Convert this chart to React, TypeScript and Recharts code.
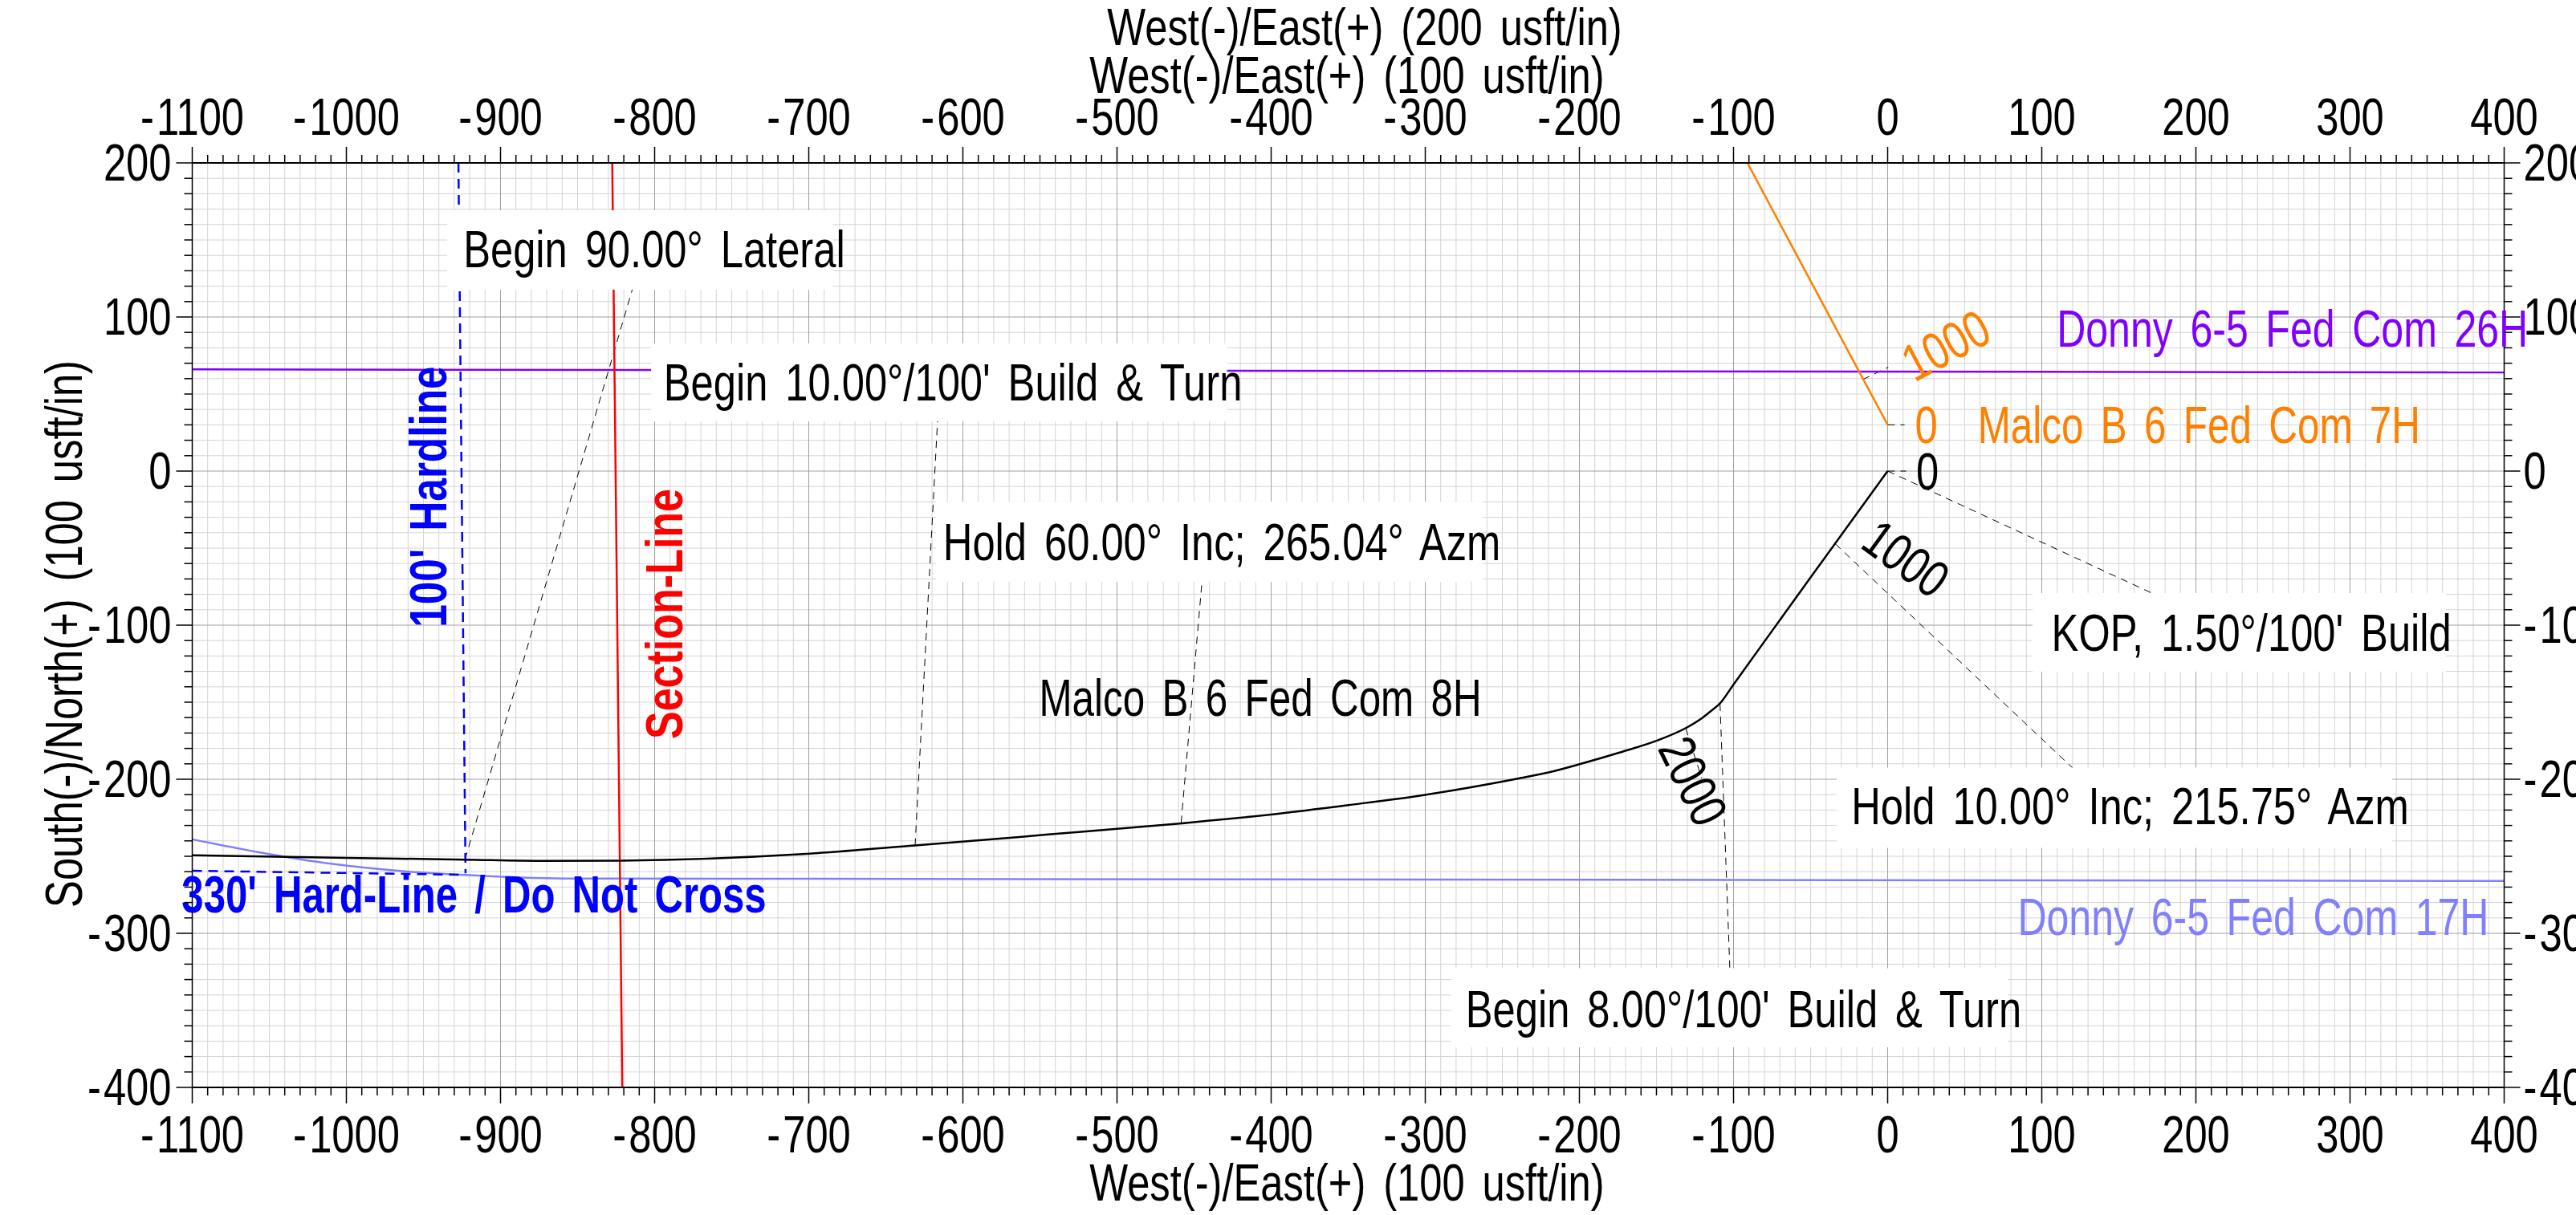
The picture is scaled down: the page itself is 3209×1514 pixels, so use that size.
import React from 'react';
import { LineChart, Line, XAxis, YAxis, CartesianGrid, ReferenceArea, ReferenceDot } from 'recharts';

// Axis ticks, labelled every 100 usft
const xMajor = [-1100, -1000, -900, -800, -700, -600, -500, -400, -300, -200, -100, 0, 100, 200, 300, 400];
const yMajor = [-400, -300, -200, -100, 0, 100, 200];
const xMinor = xMajor.slice(1).flatMap((v) => [90, 80, 70, 60, 50, 40, 30, 20, 10].map((d) => v - d));
const yMinor = yMajor.slice(1).flatMap((v) => [90, 80, 70, 60, 50, 40, 30, 20, 10].map((d) => v - d));
const xTicks = [...xMajor, ...xMinor].sort((a, b) => a - b);
const yTicks = [...yMajor, ...yMinor].sort((a, b) => a - b);

// Malco B 6 Fed Com 8H
const wellEast = [0, -50, -100, -109, -114, -120, -131, -148, -174, -199, -220, -242, -300, -350, -400, -458, -546, -631, -704, -822, -873, -923, -1000, -1100];
const wellNorth = [0, -69, -138.5, -151, -155.2, -160, -166.8, -174.3, -182.7, -190, -195.6, -200, -210.1, -216.8, -222.9, -228.6, -236, -243, -248.6, -252.8, -253, -252.2, -251, -249.4];

// Malco B 6 Fed Com 7H
const orangeEast = [0, -91];
const orangeNorth = [30, 200];

// Donny 6-5 Fed Com 26H
const purpleEast = [-1100, 400];
const purpleNorth = [66, 64];

// Donny 6-5 Fed Com 17H
const blueEast = [-1100, -1059, -1009, -959, -926, -859, -704, 400];
const blueNorth = [-239, -247, -255, -260, -262, -264.4, -264.6, -266];

// Lease lines
const sectionEast = [-827.5, -821];
const sectionNorth = [200, -400];
const hardlineEast = [-927.3, -922.7];
const hardlineNorth = [200, -261];
const hardBottomEast = [-1100, -923];
const hardBottomNorth = [-259.4, -262];

// Annotation leaders: [east from, north from, east to, north to]
const leaders = [
  [-923, -252, -808, 140],
  [-631, -243, -615, 60],
  [-458.4, -228.3, -443, -50],
  [-108.75, -151, -102.4, -322.7],
  [-131, -167, -120.6, -199.5],
  [0, 0, 171, -79],
  [-34, -47.2, 120, -192.7],
  [0, 0, 12, 0],
  [0, 30, 11, 30],
  [-16.2, 59.4, 0.4, 67.4],
];

// No narrow face is installed, so the regular one is squeezed
const FONT = '"Liberation Sans", sans-serif';
const SIZE = 65;
const NARROW = 0.78;

const toPoints = (xs: number[], ys: number[]) => xs.map((x, i) => ({ x, y: ys[i] }));

const tickText = (x: number, y: number, anchor: string, value: number) => (
  <text
    transform={`translate(${x} ${y}) scale(${NARROW} 1)`}
    textAnchor={anchor}
    fontSize={SIZE}
    fontFamily={FONT}
    fill="#000"
  >
    {value < 0 ? (
      <>
        -<tspan dx={4}>{-value}</tspan>
      </>
    ) : (
      value
    )}
  </text>
);

const TopTick = (props: any) => {
  const { x, y, payload } = props;
  const major = xMajor.includes(payload.value);
  return (
    <g>
      <line x1={x} x2={x} y1={y} y2={y - (major ? 20 : 10)} stroke="#000" strokeWidth={1.5} />
      {major && tickText(x, y - 35, 'middle', payload.value)}
    </g>
  );
};

const BottomTick = (props: any) => {
  const { x, y, payload } = props;
  const major = xMajor.includes(payload.value);
  return (
    <g>
      <line x1={x} x2={x} y1={y} y2={y + (major ? 20 : 10)} stroke="#000" strokeWidth={1.5} />
      {major && tickText(x, y + 81, 'middle', payload.value)}
    </g>
  );
};

const LeftTick = (props: any) => {
  const { x, y, payload } = props;
  const major = yMajor.includes(payload.value);
  return (
    <g>
      <line x1={x} x2={x - (major ? 20 : 10)} y1={y} y2={y} stroke="#000" strokeWidth={1.5} />
      {major && tickText(x - 26, y + 22, 'end', payload.value)}
    </g>
  );
};

const RightTick = (props: any) => {
  const { x, y, payload } = props;
  const major = yMajor.includes(payload.value);
  return (
    <g>
      <line x1={x} x2={x + (major ? 20 : 10)} y1={y} y2={y} stroke="#000" strokeWidth={1.5} />
      {major && tickText(x + 24, y + 22, 'start', payload.value)}
    </g>
  );
};

// Text placed on the chart's own scales
const note = (label: string, x: number, y: number, fill = '#000', rotate = 0, weight = 'normal', squeeze = NARROW) => (
  <ReferenceDot
    key={label + x}
    xAxisId="bottom"
    yAxisId="left"
    x={x}
    y={y}
    r={0}
    ifOverflow="visible"
    zIndex={700}
    shape={(p: any) => (
      <text
        transform={`translate(${p.cx} ${p.cy}) rotate(${rotate}) scale(${squeeze} 1)`}
        y={SIZE * 0.36}
        textAnchor="middle"
        fontSize={SIZE}
        fontFamily={FONT}
        fontWeight={weight}
        wordSpacing={10}
        fill={fill}
      >
        {label}
      </text>
    )}
  />
);

const box = (x1: number, x2: number, y1: number, y2: number) => (
  <ReferenceArea
    key={`box${x1}`}
    xAxisId="bottom"
    yAxisId="left"
    x1={x1}
    x2={x2}
    y1={y1}
    y2={y2}
    fill="#fff"
    fillOpacity={1}
    stroke="none"
    zIndex={650}
  />
);

const series = (key: string, xs: number[], ys: number[], color: string, width = 2.5, dash?: string, curve: any = 'linear') => (
  <Line
    key={key}
    xAxisId="bottom"
    yAxisId="left"
    type={curve}
    data={toPoints(xs, ys)}
    dataKey="y"
    stroke={color}
    strokeWidth={width}
    strokeDasharray={dash}
    dot={false}
    activeDot={false}
    isAnimationActive={false}
  />
);

const App: React.FC = () => (
  <div style={{ position: 'absolute', left: 0, top: 0, width: 3209, height: 1514, overflow: 'hidden', background: '#fff' }}>
    <LineChart width={3209} height={1514} margin={{ top: 0, right: 0, bottom: 0, left: 0 }}>
      <XAxis xAxisId="bottom" orientation="bottom" type="number" dataKey="x" domain={[-1100, 400]} ticks={xTicks} interval={0} height={159} tickSize={0} tickMargin={0} tick={BottomTick} stroke="#000" strokeWidth={2} allowDataOverflow />
      <XAxis xAxisId="top" orientation="top" type="number" dataKey="x" domain={[-1100, 400]} ticks={xTicks} interval={0} height={203} tickSize={0} tickMargin={0} tick={TopTick} stroke="#000" strokeWidth={2} allowDataOverflow />
      <YAxis yAxisId="left" orientation="left" type="number" domain={[-400, 200]} ticks={yTicks} interval={0} width={239.5} tickSize={0} tickMargin={0} tick={LeftTick} stroke="#000" strokeWidth={1.5} allowDataOverflow />
      <YAxis yAxisId="right" orientation="right" type="number" domain={[-400, 200]} ticks={yTicks} interval={0} width={89.5} tickSize={0} tickMargin={0} tick={RightTick} stroke="#000" strokeWidth={1.5} allowDataOverflow />

      <CartesianGrid xAxisId="bottom" yAxisId="left" stroke="#d4d4d4" strokeWidth={1} verticalValues={xMinor} horizontalValues={yMinor} syncWithTicks={false} />
      <CartesianGrid xAxisId="bottom" yAxisId="left" stroke="#a0a0a0" strokeWidth={1} verticalValues={xMajor} horizontalValues={yMajor} syncWithTicks={false} />

      {leaders.map((l, i) => series(`leader${i}`, [l[0], l[2]], [l[1], l[3]], '#000', 1, '9 7'))}
      {series('blue', blueEast, blueNorth, '#8080ff', 2.5, undefined, 'monotone')}
      {series('purple', purpleEast, purpleNorth, '#8000ff')}
      {series('section', sectionEast, sectionNorth, '#ff0000')}
      {series('hardline', hardlineEast, hardlineNorth, '#0000ff', 2.5, '12 8')}
      {series('hardBottom', hardBottomEast, hardBottomNorth, '#0000ff', 2.5, '12 8')}
      {series('orange', orangeEast, orangeNorth, '#ff8000')}
      {series('well', wellEast, wellNorth, '#000', 2.5, undefined, 'monotone')}

      {box(-934.6, -684.1, 169.3, 117.7)}
      {box(-802.3, -428.6, 82.8, 32.3)}
      {box(-617.4, -262.8, -19.8, -71.9)}
      {box(94, 362.2, -79.2, -130.2)}
      {box(-33.1, 327.3, -192.5, -244.5)}
      {box(-283.1, 77.9, -322.7, -374)}

      {note('Begin 90.00° Lateral', -800.3, 144.3)}
      {note("Begin 10.00°/100' Build & Turn", -606.5, 57.8)}
      {note('Hold 60.00° Inc; 265.04° Azm', -432, -45.6)}
      {note('Malco B 6 Fed Com 8H', -407, -146.7, '#000', 0, 'normal', 0.76)}
      {note("KOP, 1.50°/100' Build", 236, -104.7)}
      {note('Hold 10.00° Inc; 215.75° Azm', 157.3, -217.2)}
      {note("Begin 8.00°/100' Build & Turn", -93.5, -348.8)}
      {note('Donny 6-5 Fed Com 17H', 237.2, -289, '#8080ff', 0, 'normal', 0.77)}
      {note('Donny 6-5 Fed Com 26H', 262.6, 93, '#8000ff', 0, 'normal', 0.77)}
      {note('Malco B 6 Fed Com 7H', 202, 30.4, '#ff8000', 0, 'normal', 0.76)}
      {note("330' Hard-Line / Do Not Cross", -917.2, -274.3, '#0000ff', 0, 'bold', 0.755)}
      {note("100' Hardline", -947.1, -16.7, '#0000ff', -90, 'bold', 0.79)}
      {note('Section-Line', -794, -92.7, '#ff0000', -90, 'bold', 0.8)}
      {note('1000', 12.2, -56.5, '#000', 36)}
      {note('1000', 37.5, 82, '#ff8000', -28)}
      {note('2000', -125.8, -201, '#000', 64)}
      {note('0', 25.8, 0)}
      {note('0', 25.1, 30.4, '#ff8000')}

      {note('West(-)/East(+) (200 usft/in)', -339.3, 288.5)}
      {note('West(-)/East(+) (100 usft/in)', -350.8, 257.3)}
      {note('West(-)/East(+) (100 usft/in)', -350.8, -461.5)}
      {note('South(-)/North(+) (100 usft/in)', -1184, -105.7, '#000', -90)}
    </LineChart>
  </div>
);

export default App;
